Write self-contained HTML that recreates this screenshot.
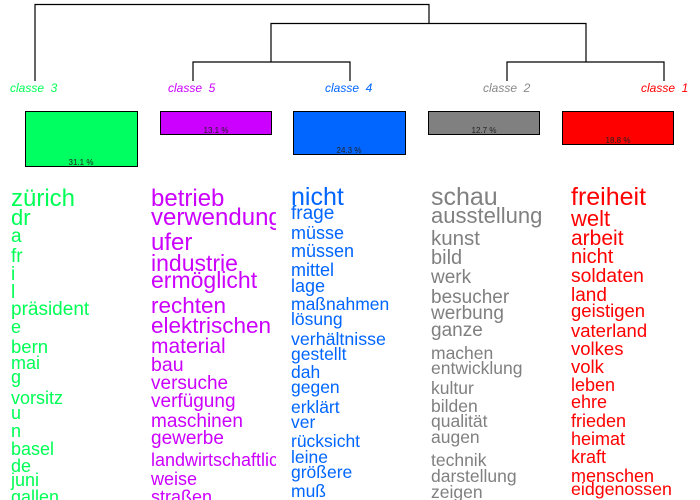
<!DOCTYPE html>
<html><head><meta charset="utf-8"><style>
html,body{margin:0;padding:0;background:#fff;width:700px;height:500px;overflow:hidden}
svg{display:block}
text{font-family:"Liberation Sans",Arial,sans-serif}
.l{font-style:italic;font-size:12px;white-space:pre}
.p{font-size:8px;fill:#222;text-anchor:middle}
</style></head><body>
<svg width="700" height="500" viewBox="0 0 700 500" xmlns="http://www.w3.org/2000/svg" xml:space="preserve">
<defs>
<clipPath id="c1"><rect x="0" y="170" width="139" height="330"/></clipPath>
<clipPath id="c2"><rect x="140" y="170" width="136" height="330"/></clipPath>
<clipPath id="c3"><rect x="280" y="170" width="139" height="330"/></clipPath>
<clipPath id="c4"><rect x="420" y="170" width="139" height="330"/></clipPath>
<clipPath id="c5"><rect x="560" y="170" width="140" height="330"/></clipPath>
</defs>
<g stroke="#000" stroke-width="1.2" fill="none">
<path d="M35 81V4.5H429V23.5"/>
<path d="M271 62V23.5H586V62"/>
<path d="M193 81V62H350V81"/>
<path d="M507 81V62H664V81"/>
</g>
<text class="l" x="10" y="92" fill="#00ff55">classe  3</text>
<text class="l" x="168" y="92" fill="#cc00ff">classe  5</text>
<text class="l" x="325" y="92" fill="#0066ff">classe  4</text>
<text class="l" x="483" y="92" fill="#888888">classe  2</text>
<text class="l" x="641" y="92" fill="#ff0000">classe  1</text>
<g stroke="#000" stroke-width="1">
<rect x="25.5" y="111.5" width="112" height="55" fill="#00ff60"/>
<rect x="160.5" y="111.5" width="111" height="23" fill="#cc00ff"/>
<rect x="293.5" y="111.5" width="112" height="43" fill="#0066ff"/>
<rect x="428.5" y="111.5" width="111" height="23" fill="#808080"/>
<rect x="562.5" y="111.5" width="111" height="33" fill="#ff0000"/>
</g>
<text class="p" x="81" y="165">31.1 %</text>
<text class="p" x="216" y="133">13.1 %</text>
<text class="p" x="349" y="153">24.3 %</text>
<text class="p" x="484" y="133">12.7 %</text>
<text class="p" x="618" y="143">18.8 %</text>

<g fill="#00ff55" clip-path="url(#c1)">
<text x="11" y="206" font-size="24">zürich</text>
<text x="11" y="225" font-size="22">dr</text>
<text x="11" y="242" font-size="19">a</text>
<text x="11" y="262" font-size="19">fr</text>
<text x="11" y="280" font-size="19">i</text>
<text x="11" y="298" font-size="19">l</text>
<text x="11" y="315" font-size="19">präsident</text>
<text x="11" y="333" font-size="18">e</text>
<text x="11" y="353" font-size="18.5">bern</text>
<text x="11" y="369" font-size="18">mai</text>
<text x="11" y="383" font-size="18">g</text>
<text x="11" y="404" font-size="18">vorsitz</text>
<text x="11" y="419" font-size="18">u</text>
<text x="11" y="437" font-size="18">n</text>
<text x="11" y="455" font-size="18">basel</text>
<text x="11" y="472" font-size="18">de</text>
<text x="11" y="486" font-size="18">juni</text>
<text x="11" y="503" font-size="18">gallen</text>
</g>
<g fill="#cc00ff" clip-path="url(#c2)">
<text x="151" y="206" font-size="24">betrieb</text>
<text x="151" y="225" font-size="24">verwendung</text>
<text x="151" y="250" font-size="24">ufer</text>
<text x="151" y="271" font-size="23">industrie</text>
<text x="151" y="288" font-size="23">ermöglicht</text>
<text x="151" y="313" font-size="22.5">rechten</text>
<text x="151" y="333" font-size="22.5">elektrischen</text>
<text x="151" y="353" font-size="21">material</text>
<text x="151" y="371" font-size="19.5">bau</text>
<text x="151" y="389" font-size="19">versuche</text>
<text x="151" y="407" font-size="19">verfügung</text>
<text x="151" y="427" font-size="19">maschinen</text>
<text x="151" y="444" font-size="19">gewerbe</text>
<text x="151" y="466" font-size="18">landwirtschaftliche</text>
<text x="151" y="485" font-size="18">weise</text>
<text x="151" y="503" font-size="18">straßen</text>
</g>
<g fill="#0066ff" clip-path="url(#c3)">
<text x="291" y="205" font-size="25">nicht</text>
<text x="291" y="219" font-size="19">frage</text>
<text x="291" y="239" font-size="18">müsse</text>
<text x="291" y="257" font-size="18">müssen</text>
<text x="291" y="276" font-size="18">mittel</text>
<text x="291" y="292" font-size="18">lage</text>
<text x="291" y="310" font-size="17.5">maßnahmen</text>
<text x="291" y="325" font-size="17.5">lösung</text>
<text x="291" y="345" font-size="17.8">verhältnisse</text>
<text x="291" y="360" font-size="17.5">gestellt</text>
<text x="291" y="378" font-size="17.5">dah</text>
<text x="291" y="393" font-size="17.5">gegen</text>
<text x="291" y="413" font-size="17.5">erklärt</text>
<text x="291" y="428" font-size="17.5">ver</text>
<text x="291" y="447" font-size="17.5">rücksicht</text>
<text x="291" y="463" font-size="17.5">leine</text>
<text x="291" y="478" font-size="17.5">größere</text>
<text x="291" y="497" font-size="17.5">muß</text>
</g>
<g fill="#808080" clip-path="url(#c4)">
<text x="431" y="205" font-size="25">schau</text>
<text x="431" y="223" font-size="22">ausstellung</text>
<text x="431" y="245" font-size="20.5">kunst</text>
<text x="431" y="264" font-size="20">bild</text>
<text x="431" y="283" font-size="19">werk</text>
<text x="431" y="303" font-size="19">besucher</text>
<text x="431" y="319" font-size="19">werbung</text>
<text x="431" y="336" font-size="19">ganze</text>
<text x="431" y="359" font-size="17.5">machen</text>
<text x="431" y="374" font-size="17.5">entwicklung</text>
<text x="431" y="394" font-size="17.5">kultur</text>
<text x="431" y="412" font-size="17.5">bilden</text>
<text x="431" y="427" font-size="17.5">qualität</text>
<text x="431" y="443" font-size="17.5">augen</text>
<text x="431" y="466" font-size="17.5">technik</text>
<text x="431" y="482" font-size="17.5">darstellung</text>
<text x="431" y="498" font-size="17.5">zeigen</text>
</g>
<g fill="#ff0000" clip-path="url(#c5)">
<text x="571" y="205" font-size="25">freiheit</text>
<text x="571" y="226" font-size="22">welt</text>
<text x="571" y="245" font-size="21">arbeit</text>
<text x="571" y="263" font-size="20">nicht</text>
<text x="571" y="282" font-size="19.3">soldaten</text>
<text x="571" y="301" font-size="19">land</text>
<text x="571" y="317" font-size="18.5">geistigen</text>
<text x="571" y="337" font-size="18.5">vaterland</text>
<text x="571" y="355" font-size="18.5">volkes</text>
<text x="571" y="373" font-size="18.5">volk</text>
<text x="571" y="391" font-size="18">leben</text>
<text x="571" y="408" font-size="18">ehre</text>
<text x="571" y="427" font-size="18">frieden</text>
<text x="571" y="445" font-size="18">heimat</text>
<text x="571" y="463" font-size="18">kraft</text>
<text x="571" y="482" font-size="18">menschen</text>
<text x="571" y="495" font-size="17.8">eidgenossen</text>
</g>
</svg>
</body></html>
